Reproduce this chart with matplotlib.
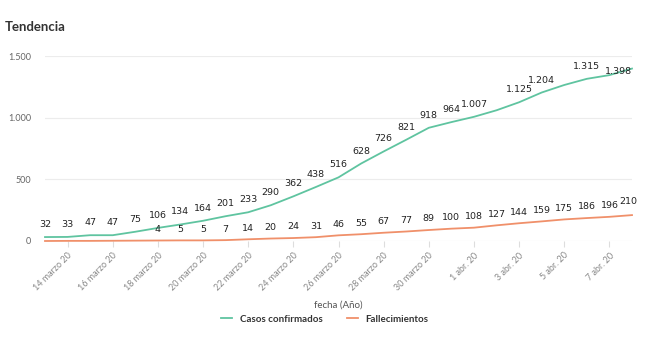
import matplotlib
matplotlib.use("Agg")
import matplotlib.pyplot as plt
import numpy as np

plt.rcParams['font.family'] = ['Lato', 'DejaVu Sans']

fechas = ["13 marzo 20", "14 marzo 20", "15 marzo 20", "16 marzo 20", "17 marzo 20",
          "18 marzo 20", "19 marzo 20", "20 marzo 20", "21 marzo 20", "22 marzo 20",
          "23 marzo 20", "24 marzo 20", "25 marzo 20", "26 marzo 20", "27 marzo 20",
          "28 marzo 20", "29 marzo 20", "30 marzo 20", "31 marzo 20", "1 abr. 20",
          "2 abr. 20", "3 abr. 20", "4 abr. 20", "5 abr. 20", "6 abr. 20",
          "7 abr. 20", "8 abr. 20"]
casos = [32, 33, 47, 47, 75, 106, 134, 164, 201, 233, 290, 362, 438, 516, 628,
         726, 821, 918, 964, 1007, 1060, 1125, 1204, 1265, 1315, 1345, 1398]
fallecidos = [0, 1, 1, 2, 3, 4, 5, 5, 7, 14, 20, 24, 31, 46, 55, 67, 77, 89,
              100, 108, 127, 144, 159, 175, 186, 196, 210]
# labels hidden in the original chart
casos_sin_etiqueta = [20, 23, 25]
fallecidos_sin_etiqueta = [0, 1, 2, 3, 4]

verde = "#5fc4a0"
naranja = "#f0906a"

x = np.arange(len(fechas))

fig = plt.figure(figsize=(6.5, 3.39), dpi=100)
ax = fig.add_axes([45/650, 1-241/339, 587/650, 185/339])

ax.plot(x, casos, color=verde, lw=1.3, label="Casos confirmados", clip_on=False)
ax.plot(x, fallecidos, color=naranja, lw=1.3, label="Fallecimientos", clip_on=False)

for i, v in enumerate(casos):
    if i in casos_sin_etiqueta:
        continue
    lbl = f"{v:,}".replace(",", ".")
    dx = -10 if i == len(casos) - 1 else 0
    dy = -2 if i == len(casos) - 1 else 9
    ax.annotate(lbl, (x[i], v), xytext=(dx, dy), textcoords="offset points",
                ha="center", va="center", fontsize=6.8, color="#222222",
                family="DejaVu Sans")
for i, v in enumerate(fallecidos):
    if i in fallecidos_sin_etiqueta:
        continue
    last = i == len(fallecidos) - 1
    ax.annotate(str(v), (x[i], v), xytext=(-2.5 if last else 0, 9.5 if last else 8),
                textcoords="offset points", ha="center", va="center",
                fontsize=6.8, color="#222222", family="DejaVu Sans")

ax.set_xlim(0, len(fechas) - 1)
ax.set_ylim(0, 1500)
ax.set_yticks([0, 500, 1000, 1500])
ax.set_yticklabels(["0", "500", "1.000", "1.500"])
ax.set_xticks(x[1::2])
ax.set_xticklabels(fechas[1::2], rotation=45, ha="right", rotation_mode="anchor")
ax.tick_params(axis="x", length=4, color="#dddddd", labelsize=6.5,
               labelcolor="#888888", pad=3)
ax.tick_params(axis="y", length=0, labelsize=6.5, labelcolor="#666666", pad=10)
ax.grid(axis="y", color="#ececec", lw=0.8)
ax.set_axisbelow(True)
for s in ax.spines.values():
    s.set_visible(False)
ax.set_xlabel("fecha (Año)", fontsize=7, color="#555555", labelpad=6)

fig.text(5/650, 1-27/339, "Tendencia", fontsize=9.5, fontweight="bold",
         color="#333333", va="center")

leg = fig.legend(loc="center", bbox_to_anchor=(0.5, 1-319/339), ncol=2,
                 frameon=False, fontsize=7, handlelength=1.1, columnspacing=2.5)
for t in leg.get_texts():
    t.set_color("#333333")
    t.set_fontweight("bold")

fig.savefig("out.png", dpi=100)
